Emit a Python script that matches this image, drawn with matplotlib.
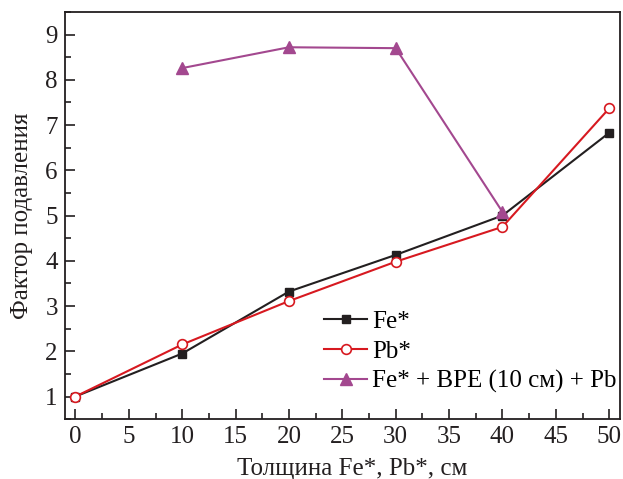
import matplotlib.pyplot as plt
from matplotlib.ticker import MultipleLocator

plt.rcParams['font.family'] = ['Liberation Serif', 'DejaVu Serif']

# Data
thickness = [0, 10, 20, 30, 40, 50]
fe_values = [1.0, 1.95, 3.32, 4.13, 5.0, 6.83]
pb_values = [1.0, 2.15, 3.11, 3.98, 4.75, 7.37]
combo_thickness = [10, 20, 30, 40]
combo_values = [8.26, 8.72, 8.70, 5.08]

fig = plt.figure(figsize=(6.23, 4.79), dpi=100)
ax = fig.add_axes([0.104, 0.125, 0.891, 0.850])

ax.plot(thickness, fe_values, color='#231f20', lw=1.5, marker='s', ms=6,
        label='Fe*')
ax.plot(thickness, pb_values, color='#d71920', lw=1.5, marker='o', ms=7,
        markerfacecolor='white', markeredgewidth=1.2, label='Pb*')
ax.plot(combo_thickness, combo_values, color='#a3488f', lw=1.5, marker='^',
        ms=8, label='Fe* + BPE (10 см) + Pb')

ax.set_xlim(-1, 51)
ax.set_ylim(0.5, 9.5)
ax.xaxis.set_major_locator(MultipleLocator(5))
ax.xaxis.set_minor_locator(MultipleLocator(2.5))
ax.yaxis.set_major_locator(MultipleLocator(1))
ax.yaxis.set_minor_locator(MultipleLocator(0.5))
ax.tick_params(which='both', direction='in', top=False, right=False,
               labelsize=18, colors='#231f20', width=1.2)
ax.tick_params(which='major', length=7, pad=5)
ax.tick_params(which='minor', length=4)
for s in ax.spines.values():
    s.set_linewidth(1.3)
    s.set_color('#231f20')

ax.set_xlabel('Толщина Fe*, Pb*, см', fontsize=18, color='#231f20',
              labelpad=7, x=0.518)
ax.set_ylabel('Фактор подавления', fontsize=18, color='#231f20', labelpad=9)

ax.legend(loc='lower right', bbox_to_anchor=(1.034, 0.008), frameon=False,
          fontsize=18, handlelength=1.7, labelspacing=0.3, handletextpad=0.2)

fig.savefig('out.png', dpi=100)
